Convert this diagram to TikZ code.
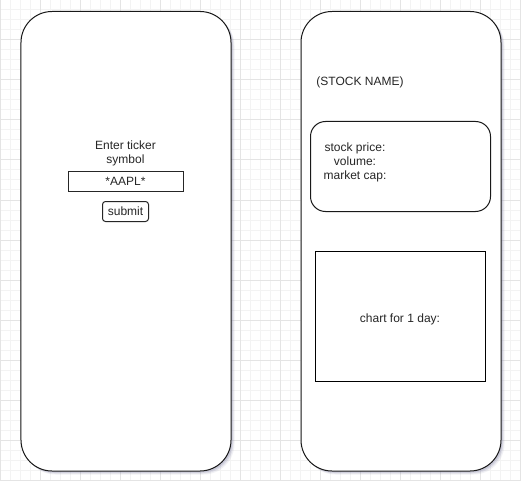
\documentclass[tikz,border=0pt]{standalone}
\usepackage{fontspec}
\setmainfont{Liberation Sans}
\usetikzlibrary{shadows}
\definecolor{minorgrid}{HTML}{F3F3F3}
\definecolor{majorgrid}{HTML}{E4E4E4}
\definecolor{shade}{HTML}{7C7CA0}
\begin{document}
\begin{tikzpicture}[x=1bp,y=-1bp,
  every node/.style={font=\fontsize{12bp}{14bp}\selectfont, text=black!85, inner sep=0pt},
  softshadow/.style={
    drop shadow={shadow xshift=1.5bp, shadow yshift=-1.5bp, fill=shade, opacity=0.22},
    drop shadow={shadow xshift=2.5bp, shadow yshift=-2.5bp, fill=shade, opacity=0.16},
    drop shadow={shadow xshift=3.5bp, shadow yshift=-3.5bp, fill=shade, opacity=0.10}},
  phone/.style={draw=black!90, line width=1bp, fill=white, rounded corners=31bp,
    softshadow},
  panel/.style={draw=black!90, line width=1bp, fill=white, rounded corners=15bp},
  field/.style={draw=black!85, line width=1bp, fill=white},
  button/.style={draw=black!85, line width=1bp, fill=white, rounded corners=3bp},
  label/.style={anchor=base, align=center}]
  \useasboundingbox (0,0) rectangle (521,481);
  \fill[white] (0,0) rectangle (521,481);
  % background grid: fine lines every 10, heavier every 40
  \foreach \i in {0,10,...,520} \draw[minorgrid, line width=1bp] (\i,0) -- (\i,481);
  \foreach \j in {0,10,...,480} \draw[minorgrid, line width=1bp] (0,\j) -- (521,\j);
  \foreach \i in {0,40,...,520} \draw[majorgrid, line width=1bp] (\i,0) -- (\i,481);
  \foreach \j in {0,40,...,480} \draw[majorgrid, line width=1bp] (0,\j) -- (521,\j);

  % input screen
  \node[phone, minimum width=210bp, minimum height=459.5bp] (inputscreen) at (126,241.25) {};
  \node[label] (prompt) at (125.5,163.5) {Enter ticker\\symbol};
  \node[field, minimum width=115bp, minimum height=20bp] (ticker) at (125.5,181.5) {*AAPL*};
  \node[button, minimum width=46bp, minimum height=20bp] (submit) at (125.5,211.5) {submit};

  % result screen
  \node[phone, minimum width=200bp, minimum height=459.5bp] (resultscreen) at (401,241.25) {};
  \node[label] (stockname) at (360,85.5) {(STOCK NAME)};
  \node[panel, minimum width=180bp, minimum height=90bp] (stats) at (400.5,166.5) {};
  \node[label] (statlines) at (355,180) {stock price:\\volume:\\market cap:};
  \node[field, draw=black, minimum width=170bp, minimum height=130bp] (chart) at (400,316.5) {};
  \node[label] (charttext) at (400,322.5) {chart for 1 day:};
\end{tikzpicture}
\end{document}
